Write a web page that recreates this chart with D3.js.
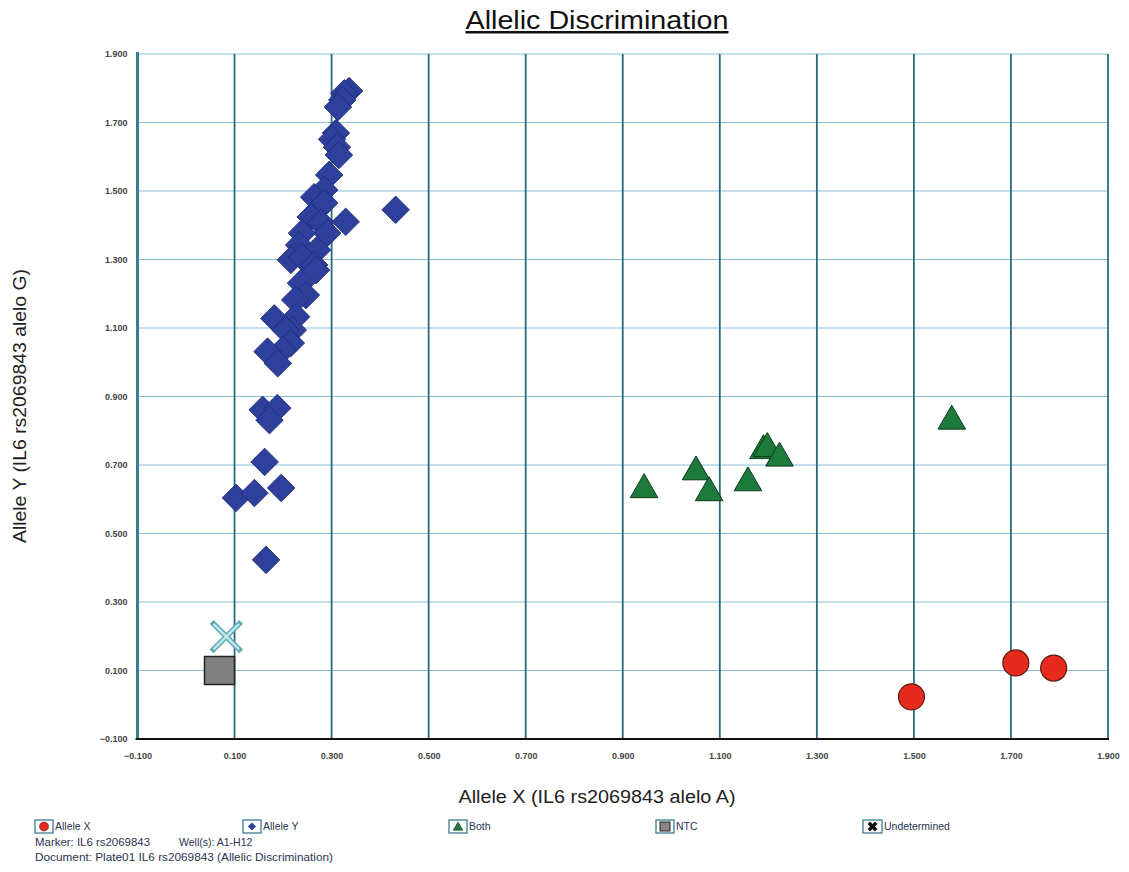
<!DOCTYPE html>
<html><head><meta charset="utf-8">
<script src="https://cdn.jsdelivr.net/npm/d3@7"></script>
<style>body{margin:0;background:#fff;}svg{display:block;font-family:Arial,"Liberation Sans",sans-serif;}</style>
</head><body><svg id="c" width="1129" height="872"></svg>
<script>
const ticks = [-0.1,0.1,0.3,0.5,0.7,0.9,1.1,1.3,1.5,1.7,1.9];
const alleleX = [[1.495,0.023],[1.710,0.122],[1.788,0.107]];
const both = [[0.944,0.628],[1.051,0.680],[1.078,0.619],[1.158,0.648],[1.190,0.742],[1.198,0.748],[1.223,0.720],[1.578,0.828]];
const alleleY = [[0.336,1.792],[0.326,1.785],[0.322,1.766],[0.313,1.745],[0.309,1.669],[0.301,1.651],[0.311,1.628],[0.315,1.605],
 [0.295,1.547],[0.285,1.503],[0.264,1.482],[0.285,1.465],[0.257,1.424],[0.278,1.407],[0.329,1.410],[0.291,1.377],[0.239,1.377],
 [0.233,1.342],[0.270,1.328],[0.216,1.299],[0.239,1.307],[0.264,1.284],[0.268,1.269],[0.237,1.231],[0.247,1.196],[0.225,1.182],
 [0.227,1.133],[0.182,1.128],[0.220,1.094],[0.205,1.094],[0.216,1.056],[0.199,1.036],[0.168,1.031],[0.189,0.997],
 [0.158,0.861],[0.188,0.866],[0.172,0.831],[0.162,0.709],[0.103,0.604],[0.141,0.618],[0.196,0.633],[0.165,0.423],[0.432,1.445]];
const ntc = [[0.069,0.100]];
const undetermined = [[0.083,0.199]];
const legendItems = ["Allele X","Allele Y","Both","NTC","Undetermined"];

const svg = d3.select("#c");
const L=137.5,R=1108,T=54,B=739;
const x = d3.scaleLinear().domain([-0.1,1.9]).range([L,R]);
const y = d3.scaleLinear().domain([-0.1,1.9]).range([B,T]);

svg.append("g").selectAll("line").data(ticks).join("line")
 .attr("x1",L).attr("x2",R).attr("y1",d=>y(d)).attr("y2",d=>y(d))
 .attr("stroke","#86bfd8").attr("stroke-width",1.2);
svg.append("g").selectAll("line").data(ticks.slice(1)).join("line")
 .attr("y1",T).attr("y2",B).attr("x1",d=>x(d)).attr("x2",d=>x(d))
 .attr("stroke","#2a6a7e").attr("stroke-width",1.8);
svg.append("line").attr("x1",L).attr("x2",L).attr("y1",T-2).attr("y2",B)
 .attr("stroke","#3a7c92").attr("stroke-width",3);
svg.append("line").attr("x1",L-2).attr("x2",R+1).attr("y1",B).attr("y2",B)
 .attr("stroke","#111").attr("stroke-width",2);

const fmt = d3.format(".3f");
const yAxis = d3.axisLeft(y).tickValues(ticks).tickFormat(fmt).tickSize(0).tickPadding(10);
const gy = svg.append("g").attr("transform",`translate(${L},0)`).call(yAxis);
gy.select(".domain").remove();
gy.selectAll("text").attr("font-size",9).attr("font-weight","bold").attr("fill","#444");
const xAxis = d3.axisBottom(x).tickValues(ticks).tickFormat(fmt).tickSize(0).tickPadding(14);
const gx = svg.append("g").attr("transform",`translate(0,${B})`).call(xAxis);
gx.select(".domain").remove();
gx.selectAll("text").attr("font-size",9).attr("font-weight","bold").attr("fill","#444");

svg.append("g").selectAll("path").data(alleleY).join("path")
 .attr("d",d3.symbol().type(d3.symbolSquare).size(380)())
 .attr("transform",d=>`translate(${x(d[0])},${y(d[1])}) rotate(45)`)
 .attr("fill","#2e3f9c").attr("stroke","#1f2a75").attr("stroke-width",0.8);
svg.append("g").selectAll("path").data(both).join("path")
 .attr("d",d3.symbol().type(d3.symbolTriangle).size(330)())
 .attr("transform",d=>`translate(${x(d[0])},${y(d[1])})`)
 .attr("fill","#1b7a3c").attr("stroke","#0d3b1c").attr("stroke-width",1);
svg.append("g").selectAll("circle").data(alleleX).join("circle")
 .attr("cx",d=>x(d[0])).attr("cy",d=>y(d[1])).attr("r",13)
 .attr("fill","#e62a1e").attr("stroke","#5a1a10").attr("stroke-width",1.2);
svg.append("g").selectAll("rect").data(ntc).join("rect")
 .attr("x",d=>x(d[0])-15).attr("y",d=>y(d[1])-14).attr("width",30).attr("height",28)
 .attr("fill","#808080").attr("stroke","#222").attr("stroke-width",1.5);
svg.append("g").selectAll("path").data(undetermined).join("path")
 .attr("d",d3.symbol().type(d3.symbolX).size(430)())
 .attr("transform",d=>`translate(${x(d[0])},${y(d[1])})`)
 .attr("fill","none").attr("stroke","#5fa9b4").attr("stroke-width",5.5).attr("stroke-linecap","square");
svg.append("g").selectAll("path").data(undetermined).join("path")
 .attr("d",d3.symbol().type(d3.symbolX).size(430)())
 .attr("transform",d=>`translate(${x(d[0])},${y(d[1])})`)
 .attr("fill","none").attr("stroke","#bfe8ec").attr("stroke-width",2.5);

svg.append("text").attr("x",597).attr("y",29).attr("text-anchor","middle")
 .attr("font-size",25).attr("fill","#111").attr("text-decoration","underline")
 .attr("textLength",263).attr("lengthAdjust","spacingAndGlyphs").text("Allelic Discrimination");
svg.append("text").attr("x",597).attr("y",803).attr("text-anchor","middle")
 .attr("font-size",18).attr("fill","#222")
 .attr("textLength",277).attr("lengthAdjust","spacingAndGlyphs").text("Allele X (IL6 rs2069843 alelo A)");
svg.append("text").attr("transform","translate(26,406) rotate(-90)").attr("text-anchor","middle")
 .attr("font-size",18).attr("fill","#222")
 .attr("textLength",274).attr("lengthAdjust","spacingAndGlyphs").text("Allele Y (IL6 rs2069843 alelo G)");

const lx = [35,243,449,656,863];
const lg = svg.append("g");
legendItems.forEach((t,i)=>{
  const g = lg.append("g").attr("transform",`translate(${lx[i]},820)`);
  g.append("rect").attr("x",0).attr("y",0).attr("width",i===4?19:18).attr("height",13)
   .attr("fill","#fff").attr("stroke","#3a7c92").attr("stroke-width",1.3);
  const cx = (i===4?9.5:9), cy=6.5;
  if(i===0) g.append("circle").attr("cx",cx).attr("cy",cy).attr("r",4.5).attr("fill","#e62a1e").attr("stroke","#5a1a10").attr("stroke-width",0.6);
  if(i===1) g.append("path").attr("d",d3.symbol().type(d3.symbolSquare).size(34)()).attr("transform",`translate(${cx},${cy}) rotate(45)`).attr("fill","#2e3f9c");
  if(i===2) g.append("path").attr("d",d3.symbol().type(d3.symbolTriangle).size(40)()).attr("transform",`translate(${cx},${cy+1})`).attr("fill","#1b7a3c").attr("stroke","#0d3b1c").attr("stroke-width",0.6);
  if(i===3) g.append("rect").attr("x",cx-5).attr("y",cy-4.5).attr("width",10).attr("height",9).attr("fill","#888").attr("stroke","#222").attr("stroke-width",1);
  if(i===4) g.append("path").attr("d",d3.symbol().type(d3.symbolCross).size(60)()).attr("transform",`translate(${cx},${cy}) rotate(45)`).attr("fill","#111");
  g.append("text").attr("x",(i===4?21:20)).attr("y",10).attr("font-size",10.5).attr("fill","#2a3550").text(t);
});
svg.append("text").attr("x",35).attr("y",846).attr("font-size",10.5).attr("fill","#2a3550")
 .attr("textLength",115).attr("lengthAdjust","spacingAndGlyphs").text("Marker: IL6 rs2069843");
svg.append("text").attr("x",179).attr("y",846).attr("font-size",10.5).attr("fill","#2a3550").text("Well(s):  A1-H12");
svg.append("text").attr("x",35).attr("y",861).attr("font-size",10.5).attr("fill","#2a3550")
 .attr("textLength",298).attr("lengthAdjust","spacingAndGlyphs").text("Document:  Plate01 IL6 rs2069843 (Allelic Discrimination)");
</script></body></html>
